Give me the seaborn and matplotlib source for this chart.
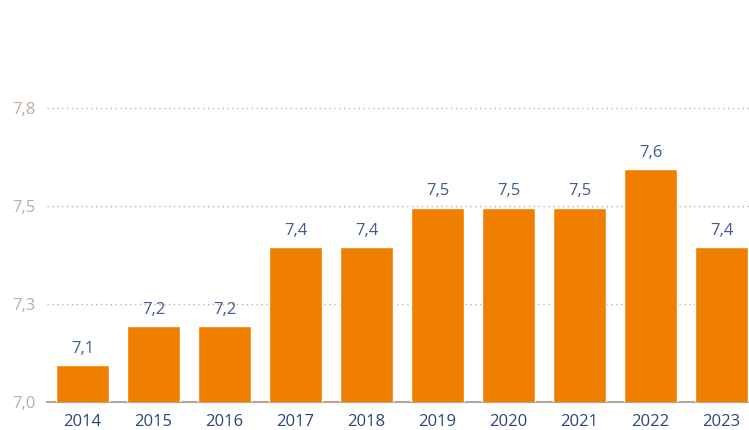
import numpy as np
import pandas as pd
import matplotlib
matplotlib.use("Agg")
import matplotlib.pyplot as plt
import seaborn as sns

years = ["2014", "2015", "2016", "2017", "2018", "2019", "2020", "2021", "2022", "2023"]
values = [7.094, 7.194, 7.194, 7.395, 7.395, 7.496, 7.496, 7.496, 7.594, 7.395]
value_labels = ["7,1", "7,2", "7,2", "7,4", "7,4", "7,5", "7,5", "7,5", "7,6", "7,4"]
yticks = [7.0, 7.25, 7.5, 7.75]
ytick_labels = ["7,0", "7,3", "7,5", "7,8"]

df = pd.DataFrame({"year": years, "value": values})

sns.set_style("white")
plt.rcParams["font.family"] = ["Open Sans", "DejaVu Sans"]

fig = plt.figure(figsize=(7.49, 4.30), dpi=100)
ax = fig.add_axes([47 / 749, 28 / 430, 710 / 749, 392 / 430])

sns.barplot(data=df, x="year", y="value", color="#f07f00", saturation=1,
            width=0.75, ax=ax, zorder=3)

ax.set_ylim(7.0, 8.0)
ax.set_xlim(-0.5, 9.5)
ax.set_yticks(yticks)
ax.set_yticklabels(ytick_labels, color="#bfae9f", fontsize=12)
ax.tick_params(axis="y", length=0, pad=8)
ax.tick_params(axis="x", length=0, pad=9, labelcolor="#28467a", labelsize=12)
ax.set_xlabel("")
ax.set_ylabel("")

for y in yticks[1:]:
    ax.axhline(y, color="#b5b5b5", linestyle=(0, (1, 2.5)), linewidth=1, zorder=1)

for s in ["top", "right", "left"]:
    ax.spines[s].set_visible(False)
ax.spines["bottom"].set_color("#b3a79c")
ax.spines["bottom"].set_linewidth(1.5)

ax.bar_label(ax.containers[0], labels=value_labels, padding=6,
             color="#3e5c8c", fontsize=12)

fig.savefig("out.png", dpi=100)
